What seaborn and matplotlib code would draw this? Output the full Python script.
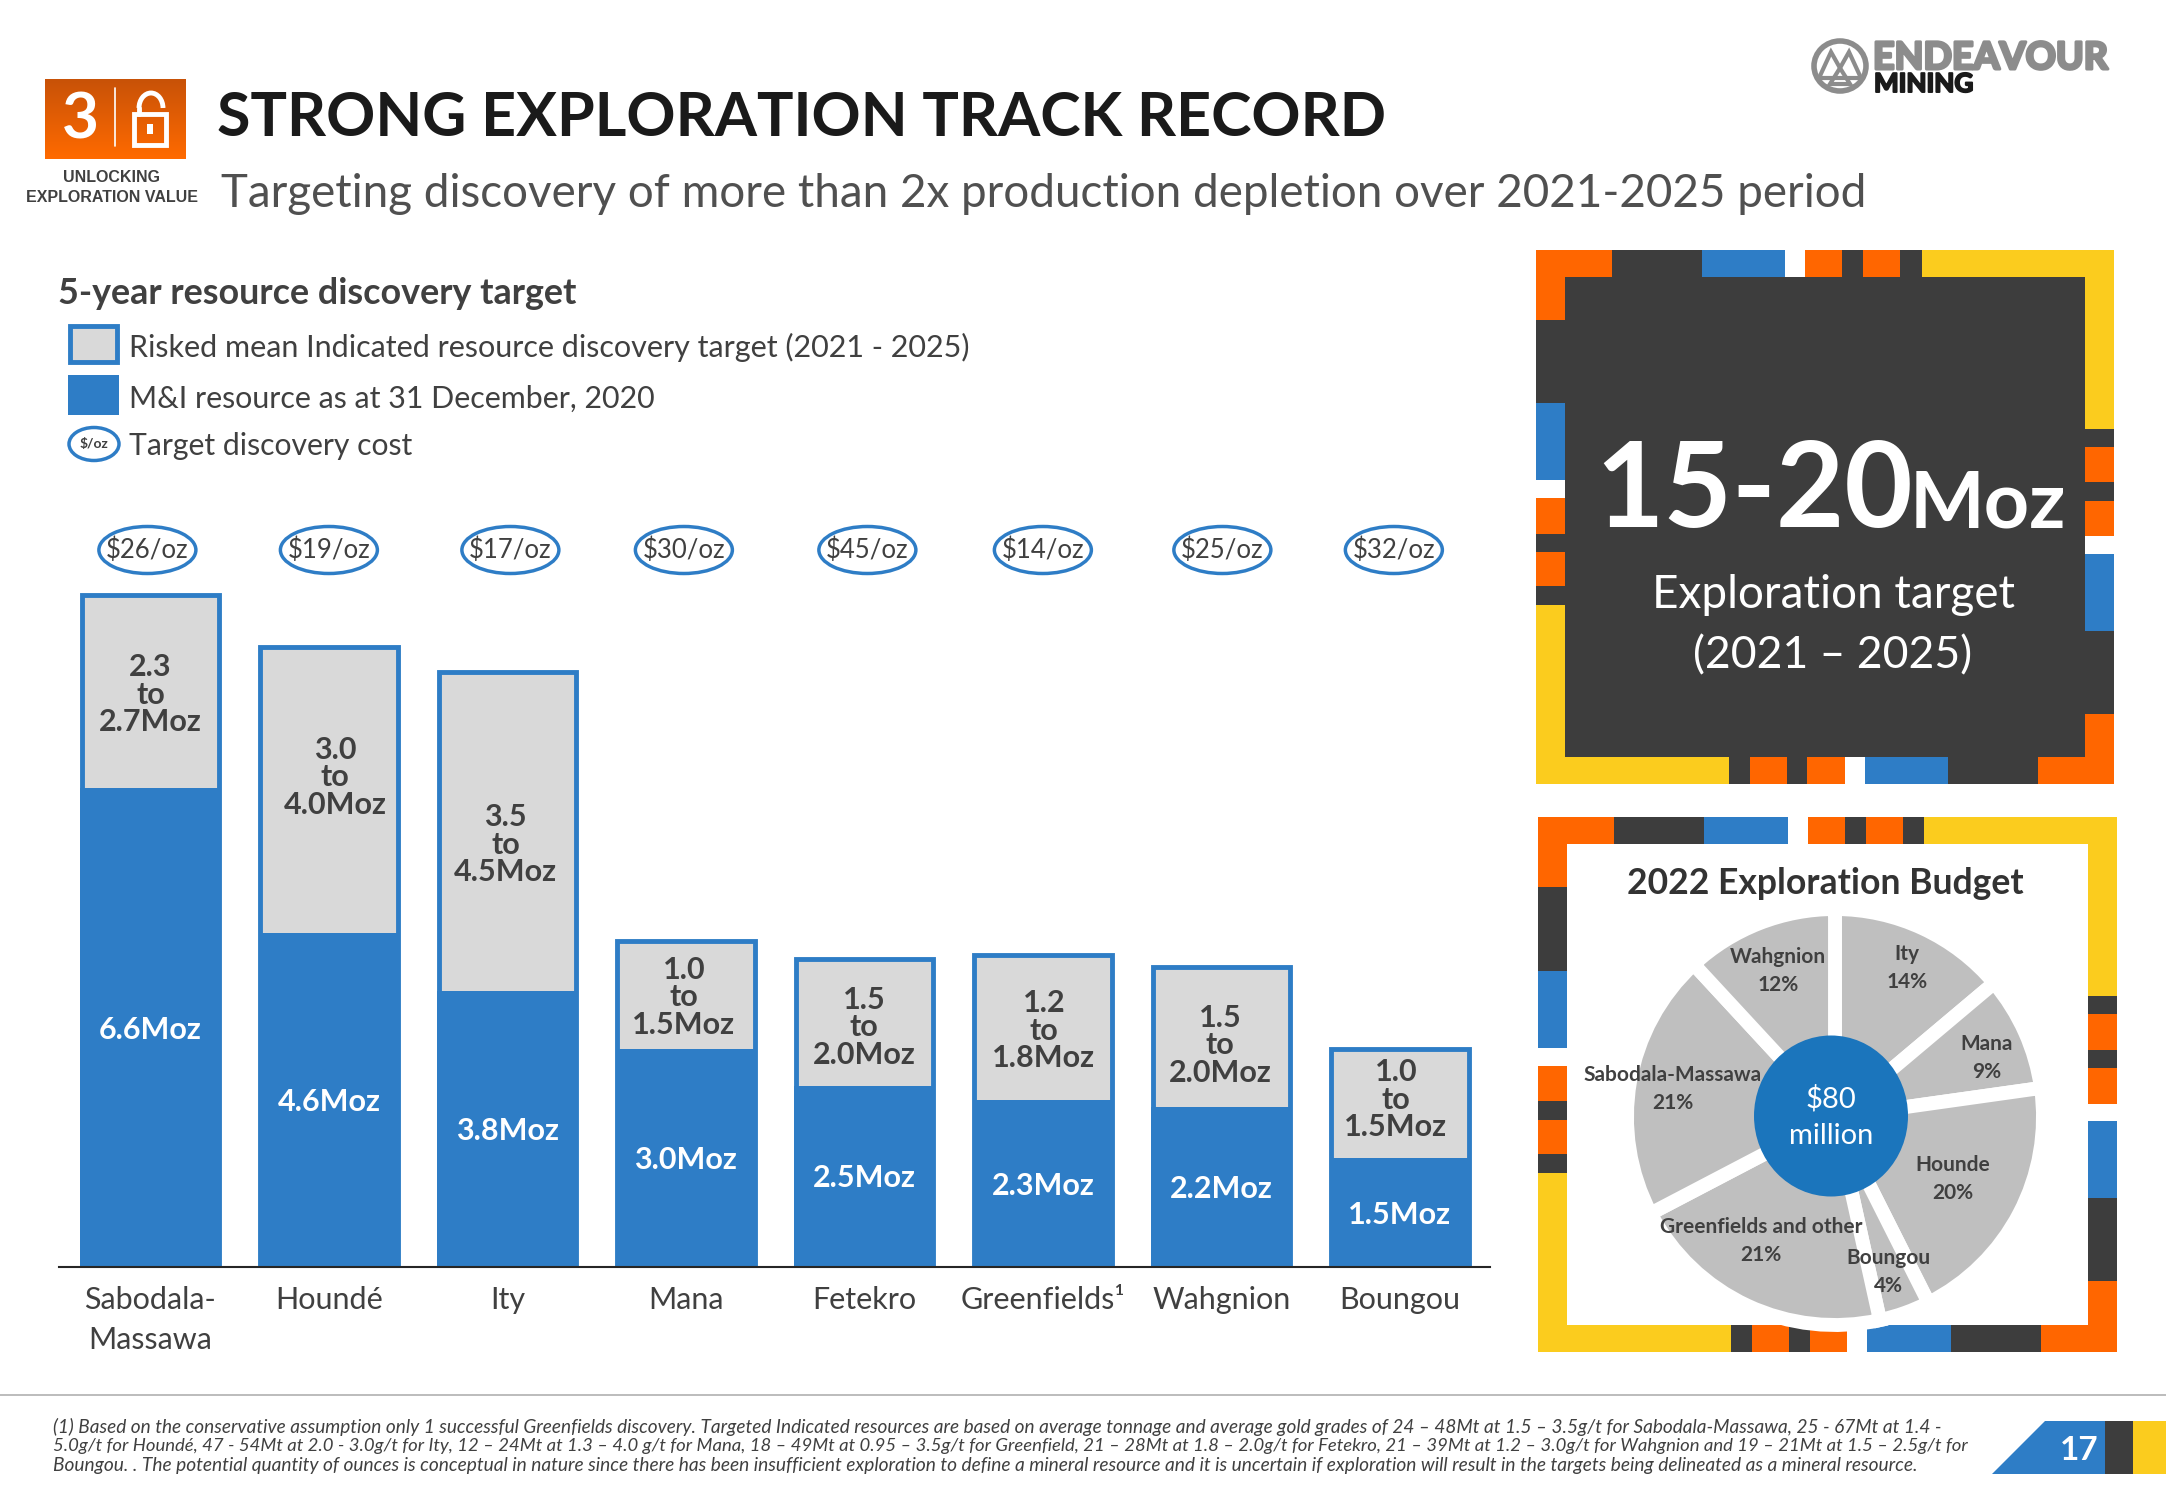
import numpy as np
import pandas as pd
import seaborn as sns
import matplotlib.pyplot as plt
import matplotlib.patheffects as pe
from matplotlib.patches import Rectangle, Ellipse, Polygon, Arc

# bar chart values
sites = ['Sabodala-\nMassawa', 'Houndé', 'Ity', 'Mana', 'Fetekro', 'Greenfields¹', 'Wahgnion', 'Boungou']
mi_moz = [6.6, 4.6, 3.8, 3.0, 2.5, 2.3, 2.2, 1.5]
target_moz = [2.67, 3.95, 4.4, 1.5, 1.75, 2.0, 1.94, 1.5]
target_low = ['2.3', '3.0', '3.5', '1.0', '1.5', '1.2', '1.5', '1.0']
target_high = ['2.7', '4.0', '4.5', '1.5', '2.0', '1.8', '2.0', '1.5']
cost_oz = [26, 19, 17, 30, 45, 14, 25, 32]

# pie values
budget_sites = ['Ity', 'Mana', 'Hounde', 'Boungou', 'Greenfields and other', 'Sabodala-Massawa', 'Wahgnion']
budget_pct = [14, 9, 20, 4, 21, 21, 12]

ORANGE = '#FF6600'
DARK = '#3D3D3D'
BLUE = '#2E7DC6'
YELLOW = '#FBCC1E'
GREY = '#D9D9D9'
TEXT = '#404040'
W, H = 2166, 1500

sns.set_theme(style='white')
plt.rcParams['font.family'] = ['Lato', 'DejaVu Sans']

fig = plt.figure(figsize=(W / 100, H / 100), dpi=100, facecolor='white')


def px_axes(left, top, right, bottom, **kw):
    return fig.add_axes([left / W, 1 - bottom / H, (right - left) / W, (bottom - top) / H], **kw)


# page sized layers, coordinates are pixels
bg = px_axes(0, 0, W, H, zorder=0)
fg = px_axes(0, 0, W, H, zorder=5)
for a in (bg, fg):
    a.set_xlim(0, W)
    a.set_ylim(H, 0)
    a.axis('off')
fg.patch.set_alpha(0)


def box(a, x0, y0, x1, y1, color, **kw):
    a.add_patch(Rectangle((x0, y0), x1 - x0, y1 - y0, facecolor=color, edgecolor='none', **kw))


# coloured frames, strips are given as fractions of the side
top_strip = [(0, .132, ORANGE), (.132, .287, DARK), (.287, .431, BLUE), (.431, .466, 'white'), (.466, .53, ORANGE),
             (.53, .566, DARK), (.566, .63, ORANGE), (.63, .667, DARK), (.667, 1, YELLOW)]
left_strip = [(0, .131, ORANGE), (.131, .287, DARK), (.287, .431, BLUE), (.431, .465, 'white'), (.465, .531, ORANGE),
              (.531, .566, DARK), (.566, .63, ORANGE), (.63, .665, DARK), (.665, 1, YELLOW)]
right_strip = [(0, .335, YELLOW), (.335, .369, DARK), (.369, .435, ORANGE), (.435, .47, DARK), (.47, .536, ORANGE),
               (.536, .569, 'white'), (.569, .713, BLUE), (.713, .868, DARK), (.868, 1, ORANGE)]
bottom_strip = [(0, .334, YELLOW), (.334, .37, DARK), (.37, .434, ORANGE), (.434, .469, DARK), (.469, .534, ORANGE),
                (.534, .569, 'white'), (.569, .713, BLUE), (.713, .868, DARK), (.868, 1, ORANGE)]


def frame(x0, y0, x1, y1, tx, ty, fill):
    box(bg, x0 + tx, y0 + ty, x1 - tx, y1 - ty, fill)
    w, h = x1 - x0, y1 - y0
    for a0, a1, c in top_strip:
        box(bg, x0 + a0 * w, y0, x0 + a1 * w, y0 + ty, c)
    for a0, a1, c in bottom_strip:
        box(bg, x0 + a0 * w, y1 - ty, x0 + a1 * w, y1, c)
    for a0, a1, c in left_strip:
        box(bg, x0, y0 + a0 * h, x0 + tx, y0 + a1 * h, c)
    for a0, a1, c in right_strip:
        box(bg, x1 - tx, y0 + a0 * h, x1, y0 + a1 * h, c)


frame(1536, 250, 2114, 784, 29, 27, DARK)
frame(1538, 817, 2117, 1352, 29, 27, 'white')

# header
grad = np.linspace(0, 1, 80).reshape(-1, 1)
bg.imshow(grad, extent=(45, 186, 159, 79), aspect='auto', zorder=2,
          cmap=plt.matplotlib.colors.LinearSegmentedColormap.from_list('o', ['#C85208', '#FF6A00']))
bg.set_xlim(0, W)
bg.set_ylim(H, 0)
fg.text(80, 120, '3', color='white', fontsize=46, fontweight='bold', ha='center', va='center')
fg.plot([115, 115], [88, 146], color='white', lw=1.2)
fg.add_patch(Rectangle((134, 114), 32, 31, fill=False, edgecolor='white', lw=3.5))
fg.add_patch(Arc((151, 108), 24, 30, theta1=180, theta2=360, edgecolor='white', lw=3.5))
fg.plot([139, 139], [108, 114], color='white', lw=3.5)
box(fg, 147, 124, 153, 134, 'white')
fg.text(112, 178, 'UNLOCKING', fontsize=11.5, fontweight='bold', color=TEXT, ha='center', va='center', family='Liberation Sans')
fg.text(112, 197, 'EXPLORATION VALUE', fontsize=11.5, fontweight='bold', color=TEXT, ha='center', va='center', family='Liberation Sans')
fg.text(217, 136, 'STRONG EXPLORATION TRACK RECORD', fontsize=43.8, fontweight='bold', color='#1A1A1A', ha='left', va='baseline')
fg.text(221, 194, 'Targeting discovery of more than 2x production depletion over 2021-2025 period',
        fontsize=32.95, color='#505050', ha='left', va='center')

# logo
fg.add_patch(Ellipse((1840, 66), 52, 50, fill=False, edgecolor='#8C8C8C', lw=4))
fg.add_patch(Polygon([(1819, 78), (1831, 52), (1840, 68), (1849, 52), (1861, 78)], fill=False, edgecolor='#8C8C8C', lw=3))
fg.add_patch(Polygon([(1830, 84), (1840, 68), (1850, 84)], fill=False, edgecolor='#8C8C8C', lw=3))
fg.text(1873, 69, 'ENDEAVOUR', fontsize=27, fontweight='bold', color='#8C8C8C', ha='left', va='baseline',
        path_effects=[pe.withStroke(linewidth=2.2, foreground='#8C8C8C')])
fg.text(1874, 92, 'MINING', fontsize=18.8, fontweight='bold', color='#1A1A1A', ha='left', va='baseline',
        path_effects=[pe.withStroke(linewidth=1.4, foreground='#1A1A1A')])

# legend
fg.text(58, 294, '5-year resource discovery target', fontsize=25.85, fontweight='bold', color=TEXT, ha='left', va='center')
fg.add_patch(Rectangle((70, 326), 47, 36, facecolor=GREY, edgecolor=BLUE, lw=3.5))
box(fg, 68, 375, 119, 415, BLUE)
fg.add_patch(Ellipse((94, 444), 50, 33, facecolor='white', edgecolor=BLUE, lw=2.5))
fg.text(94, 444, '$/oz', fontsize=10, fontweight='bold', color=TEXT, ha='center', va='center')
fg.text(129, 347, 'Risked mean Indicated resource discovery target (2021 - 2025)', fontsize=22, color=TEXT, ha='left', va='center')
fg.text(129, 399, 'M&I resource as at 31 December, 2020', fontsize=21.9, color=TEXT, ha='left', va='center')
fg.text(129, 446, 'Target discovery cost', fontsize=21.7, color=TEXT, ha='left', va='center')

# stacked bars
df = pd.DataFrame({'site': sites, 'mi': mi_moz, 'target': target_moz})
df['total'] = df['mi'] + df['target']

ax = px_axes(59, 560, 1490, 1267, zorder=1)
ax.patch.set_alpha(0)
sns.barplot(data=df, x='site', y='total', color=GREY, saturation=1, width=0.77, edgecolor=BLUE, linewidth=3.5, ax=ax)
sns.barplot(data=df, x='site', y='mi', color=BLUE, saturation=1, width=0.785, edgecolor=BLUE, linewidth=0, ax=ax)
ax.set_xlim(-0.512, 7.505)
ax.set_ylim(0, 9.75)
ax.set_xlabel('')
ax.set_ylabel('')
ax.set_yticks([])
sns.despine(ax=ax, left=True)
ax.spines['bottom'].set_color('#262626')
ax.spines['bottom'].set_linewidth(1.5)
ax.tick_params(axis='x', length=0, pad=14)
ax.set_xticks(range(len(sites)))
ax.set_xticklabels(sites, fontsize=22, color=TEXT, linespacing=1.5)

# small shifts of the labels inside bars, pixels (right, up)
grey_nudge = [(0, -3), (6, 13), (-2, -13), (-2, -2), (0, -5), (1, -3), (-1, -8), (-4, 4)]
cost_nudge = [-3, 0, 3, -2, 3, 0, 1, -6]
for i, row in df.iterrows():
    ax.annotate(f'{row.mi}Moz', (i, row.mi / 2), xytext=(0, -1.5), textcoords='offset points',
                ha='center', va='center', color='white', fontsize=22, fontweight='bold')
    ax.annotate(f'{target_low[i]}\nto\n{target_high[i]}Moz', (i, row.mi + row.target / 2),
                xytext=(grey_nudge[i][0] * 0.72, grey_nudge[i][1] * 0.72), textcoords='offset points',
                ha='center', va='center', color=TEXT, fontsize=22, fontweight='bold', linespacing=0.98)
    # cost ovals sit above the bars on the page layer, same x scale as the bars
    cx = ax.transData.transform((i, 0))[0] + cost_nudge[i]
    fg.add_patch(Ellipse((cx, 550), 97, 47, facecolor='white', edgecolor=BLUE, lw=2.5))
    fg.text(cx, 550, f'${cost_oz[i]}/oz', ha='center', va='center', color=TEXT, fontsize=18.5)

# dark panel text
fg.text(1595, 527, '15-20', fontsize=85, fontweight='bold', color='white', ha='left', va='baseline')
fg.text(1910, 527, 'Moz', fontsize=57, fontweight='bold', color='white', ha='left', va='baseline')
fg.text(1833, 595, 'Exploration target', fontsize=33, color='white', ha='center', va='center')
fg.text(1833, 656, '(2021 – 2025)', fontsize=32, color='white', ha='center', va='center')

# exploration budget pie
fg.text(1825, 884, '2022 Exploration Budget', fontsize=25.6, fontweight='bold', color='#333333', ha='center', va='center')
pie_ax = px_axes(1835 - 208, 1117 - 208, 1835 + 208, 1117 + 208, zorder=2)
pie_ax.patch.set_alpha(0)
pie_ax.pie(budget_pct, startangle=90, counterclock=False, colors=['#BFBFBF'] * len(budget_pct),
           wedgeprops=dict(edgecolor='white', linewidth=10))
pie_ax.set_xlim(-1, 1)
pie_ax.set_ylim(-1, 1)
fg.add_patch(Ellipse((1831, 1116), 154, 161, facecolor='#1B75BC', edgecolor='none'))
fg.text(1831, 1117, '$80\nmillion', fontsize=21, color='white', ha='center', va='center', linespacing=1.5)

pie_label_xy = [(1907, 968), (1987, 1058), (1953, 1179), (1888, 1272), (1761, 1241), (1673, 1089), (1778, 971)]
for name, pct, (lx, ly) in zip(budget_sites, budget_pct, pie_label_xy):
    fg.text(lx, ly, f'{name}\n{pct}%', fontsize=15, fontweight='bold', color=TEXT, ha='center', va='center', linespacing=1.45)

# footer
fg.plot([0, W], [1395, 1395], color='#B0B0B0', lw=1.2)
foot_lines = [
    '(1) Based on the conservative assumption only 1 successful Greenfields discovery. Targeted Indicated resources are based on average tonnage and average gold grades of 24 – 48Mt at 1.5 – 3.5g/t for Sabodala-Massawa, 25 - 67Mt at 1.4 -',
    '5.0g/t for Houndé, 47 - 54Mt at 2.0 - 3.0g/t for Ity, 12 – 24Mt at 1.3 – 4.0 g/t for Mana, 18 – 49Mt at 0.95 – 3.5g/t for Greenfield, 21 – 28Mt at 1.8 – 2.0g/t for Fetekro, 21 – 39Mt at 1.2 – 3.0g/t for Wahgnion and 19 – 21Mt at 1.5 – 2.5g/t for',
    'Boungou. . The potential quantity of ounces is conceptual in nature since there has been insufficient exploration to define a mineral resource and it is uncertain if exploration will result in the targets being delineated as a mineral resource.',
]
for line, ly, fs in zip(foot_lines, [1427, 1446, 1465], [13.65, 13.3, 13.8]):
    fg.text(53, ly, line, fontsize=fs, style='italic', color=TEXT, ha='left', va='center')

fg.add_patch(Polygon([(1992, 1474), (2045, 1421), (2105, 1421), (2105, 1474)], facecolor=BLUE, edgecolor='none'))
box(fg, 2105, 1421, 2133, 1474, DARK)
box(fg, 2133, 1421, W, 1474, YELLOW)
fg.text(2079, 1450, '17', fontsize=24, fontweight='bold', color='white', ha='center', va='center')

fig.savefig('out.png', dpi=100)
